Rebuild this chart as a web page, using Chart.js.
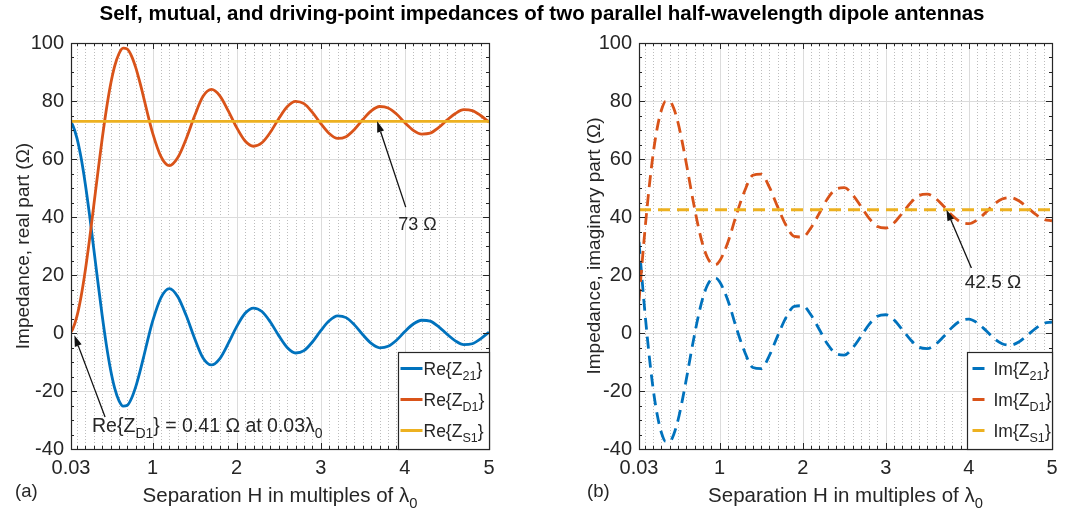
<!DOCTYPE html>
<html>
<head>
<meta charset="utf-8">
<script src="https://cdn.jsdelivr.net/npm/chart.js@4.4.1/dist/chart.umd.min.js"></script>
<style>
  html, body { margin: 0; padding: 0; background: #fff; }
  #wrap { position: relative; width: 1084px; height: 514px; overflow: hidden; }
  #title { position: absolute; left: 0; top: 1px; width: 1084px; text-align: center;
           font-family: "Liberation Sans", Arial, sans-serif; font-weight: bold; font-size: 20.5px; color: #000; }
  canvas { position: absolute; top: 0; }
  #chartRe { left: 0; }
  #chartIm { left: 545px; }
</style>
</head>
<body>
<div id="wrap">
  <canvas id="chartRe" width="545" height="514"></canvas>
  <canvas id="chartIm" width="539" height="514"></canvas>
  <div id="title">Self, mutual, and driving-point impedances of two parallel half-wavelength dipole antennas</div>
</div>
<script>
// separation H / lambda0
var separation = [0.03, 0.05, 0.1, 0.15, 0.2, 0.25, 0.3, 0.35, 0.4, 0.45, 0.5, 0.55, 0.6, 0.65, 0.7, 0.75, 0.8, 0.85, 0.9, 0.95, 1.0,
    1.1, 1.2, 1.3, 1.4, 1.5, 1.6, 1.7, 1.8, 1.9, 2.0, 2.1, 2.2, 2.3, 2.4, 2.5, 2.6, 2.7, 2.8, 2.9, 3.0,
    3.1, 3.2, 3.3, 3.4, 3.5, 3.6, 3.7, 3.8, 3.9, 4.0, 4.1, 4.2, 4.3, 4.4, 4.5, 4.6, 4.7, 4.8, 4.9, 5.0];

var reZ21 = [72.6, 71.7, 67.3, 60.4, 51.4, 40.8, 29.2, 17.5, 6.2, -4.0, -12.6, -19.1, -23.3, -25.2, -24.9, -22.5, -18.5, -13.3, -7.5, -1.5, 4.0,
    12.2, 15.3, 12.5, 6.0, -1.9, -8.6, -11.0, -8.8, -3.6, 2.2, 6.8, 8.6, 7.4, 3.8, -0.9, -5.0, -6.9, -6.1, -3.1, 0.8,
    4.2, 5.9, 5.3, 2.8, -0.6, -3.6, -5.1, -4.6, -2.5, 0.5, 3.1, 4.4, 4.1, 2.2, -0.4, -2.7, -4.0, -3.7, -2.0, 0.3];

var reZD1 = [0.41, 1.3, 5.7, 12.6, 21.6, 32.2, 43.8, 55.5, 66.8, 77.0, 85.6, 92.1, 96.3, 98.2, 97.9, 95.5, 91.5, 86.3, 80.5, 74.5, 69.0,
    60.8, 57.7, 60.5, 67.0, 74.9, 81.6, 84.0, 81.8, 76.6, 70.8, 66.2, 64.4, 65.6, 69.2, 73.9, 78.0, 79.9, 79.1, 76.1, 72.2,
    68.8, 67.1, 67.7, 70.2, 73.6, 76.6, 78.1, 77.6, 75.5, 72.5, 69.9, 68.6, 68.9, 70.8, 73.4, 75.7, 77.0, 76.7, 75.0, 72.7];

var imZ21 = [31.4, 24.3, 7.5, -7.1, -19.2, -28.3, -34.4, -37.4, -37.4, -34.8, -30.0, -23.4, -15.9, -7.9, -0.3, 6.6, 12.3, 16.3, 18.5, 19.0, 17.7,
    11.2, 1.9, -6.4, -11.9, -12.3, -7.7, -0.9, 5.4, 9.2, 9.4, 6.2, 1.2, -3.9, -7.1, -7.6, -5.2, -1.2, 3.0, 5.8, 6.3,
    4.5, 1.1, -2.4, -4.9, -5.4, -3.9, -1.1, 2.0, 4.2, 4.8, 3.5, 1.0, -1.8, -3.7, -4.2, -3.1, -0.9, 1.5, 3.3, 3.8];

var imZD1 = [11.1, 18.2, 35.0, 49.6, 61.7, 70.8, 76.9, 79.9, 79.9, 77.3, 72.5, 65.9, 58.4, 50.4, 42.8, 35.9, 30.2, 26.2, 24.0, 23.5, 24.8,
    31.3, 40.6, 48.9, 54.4, 54.8, 50.2, 43.4, 37.1, 33.3, 33.1, 36.3, 41.3, 46.4, 49.6, 50.1, 47.7, 43.7, 39.5, 36.7, 36.2,
    38.0, 41.4, 44.9, 47.4, 47.9, 46.4, 43.6, 40.5, 38.3, 37.7, 39.0, 41.5, 44.3, 46.2, 46.7, 45.6, 43.4, 41.0, 39.2, 38.7];

var selfSpan = [0.03, 5];
var reZS1 = [73, 73];
var imZS1 = [42.5, 42.5];

var xTickValues = [0.03, 1, 2, 3, 4, 5];
var xTickLabels = ['0.03', '1', '2', '3', '4', '5'];
var yTickValues = [-40, -20, 0, 20, 40, 60, 80, 100];

var FONT = '"Liberation Sans", Arial, Helvetica, sans-serif';
var INK = '#262626';
var BLUE = '#0072BD', ORANGE = '#D95319', YELLOW = '#EDB120';

function toPoints(xs, ys) {
    return xs.map(function(x, i) { return { x: x, y: ys[i] }; });
}

// parts: [[text, isSubscript], ...]; y is the baseline
function drawRich(ctx, parts, x, y, size, align) {
    var widths = [], total = 0;
    parts.forEach(function(p) {
        ctx.font = (p[1] ? size * 0.72 : size) + 'px ' + FONT;
        var w = ctx.measureText(p[0]).width;
        widths.push(w);
        total += w;
    });
    var cx = x;
    if (align === 'center') cx = x - total / 2;
    if (align === 'right') cx = x - total;
    ctx.textAlign = 'left';
    ctx.textBaseline = 'alphabetic';
    parts.forEach(function(p, i) {
        ctx.font = (p[1] ? size * 0.72 : size) + 'px ' + FONT;
        ctx.fillText(p[0], cx, p[1] ? y + size * 0.3 : y);
        cx += widths[i];
    });
}

function seg(ctx, x1, y1, x2, y2) {
    ctx.beginPath();
    ctx.moveTo(x1, y1);
    ctx.lineTo(x2, y2);
    ctx.stroke();
}

function arrow(ctx, x1, y1, x2, y2) {
    var ang = Math.atan2(y2 - y1, x2 - x1), len = 11, half = 3.6;
    var bx = x2 - len * Math.cos(ang), by = y2 - len * Math.sin(ang);
    ctx.strokeStyle = '#111';
    ctx.fillStyle = '#111';
    ctx.lineWidth = 1.3;
    seg(ctx, x1, y1, bx, by);
    ctx.beginPath();
    ctx.moveTo(x2, y2);
    ctx.lineTo(bx + half * Math.sin(ang), by - half * Math.cos(ang));
    ctx.lineTo(bx - half * Math.sin(ang), by + half * Math.cos(ang));
    ctx.closePath();
    ctx.fill();
}

var matlabAxes = {
    id: 'matlabAxes',
    beforeDatasetsDraw: function(chart) {
        var ctx = chart.ctx, a = chart.chartArea, xs = chart.scales.x, ys = chart.scales.y;
        ctx.save();
        ctx.lineWidth = 1;
        ctx.strokeStyle = '#bdbdbd';
        ctx.setLineDash([1, 2]);
        for (var i = 1; i < 50; i++) {
            if (i % 10 === 0) continue;
            var px = Math.round(xs.getPixelForValue(i / 10)) + 0.5;
            seg(ctx, px, a.top, px, a.bottom);
        }
        ctx.setLineDash([]);
        ctx.strokeStyle = '#dcdcdc';
        [1, 2, 3, 4].forEach(function(v) {
            var px = Math.round(xs.getPixelForValue(v)) + 0.5;
            seg(ctx, px, a.top, px, a.bottom);
        });
        yTickValues.forEach(function(v) {
            var py = Math.round(ys.getPixelForValue(v)) + 0.5;
            seg(ctx, a.left, py, a.right, py);
        });
        ctx.restore();
    },
    afterDatasetsDraw: function(chart) {
        var ctx = chart.ctx, a = chart.chartArea, xs = chart.scales.x, ys = chart.scales.y;
        var cfg = chart.options.plugins.matlabAxes;
        var i, v, px, py;
        ctx.save();

        // inward ticks on all four sides
        ctx.strokeStyle = INK;
        ctx.lineWidth = 1;
        for (i = 1; i < 50; i++) {
            px = Math.round(xs.getPixelForValue(i / 10)) + 0.5;
            var tl = i % 10 === 0 ? 6 : 3;
            seg(ctx, px, a.bottom, px, a.bottom - tl);
            seg(ctx, px, a.top, px, a.top + tl);
        }
        for (v = -35; v < 100; v += 5) {
            py = Math.round(ys.getPixelForValue(v)) + 0.5;
            var tly = v % 20 === 0 ? 6 : 3;
            seg(ctx, a.left, py, a.left + tly, py);
            seg(ctx, a.right, py, a.right - tly, py);
        }
        ctx.lineWidth = 1.2;
        ctx.strokeRect(Math.round(a.left) + 0.5, Math.round(a.top) + 0.5,
            Math.round(a.right - a.left), Math.round(a.bottom - a.top));

        // legend box in the lower right corner
        var lw = cfg.legendWidth, lh = 97;
        var lx = Math.round(a.right) - lw + 0.5, ly = Math.round(a.bottom) - lh + 0.5;
        ctx.fillStyle = '#fff';
        ctx.fillRect(lx, ly, lw, lh);
        ctx.strokeRect(lx, ly, lw, lh);
        chart.data.datasets.forEach(function(ds, k) {
            var rowY = ly + 16 + k * 31;
            ctx.strokeStyle = ds.borderColor;
            ctx.lineWidth = 3;
            if (ds.borderDash) {
                seg(ctx, lx + 5, rowY, lx + 17, rowY);
            } else {
                seg(ctx, lx + 2, rowY, lx + 24, rowY);
            }
            ctx.fillStyle = INK;
            drawRich(ctx, ds.legendParts, lx + cfg.legendTextX, rowY + 6, 17.5, 'left');
        });

        // annotations with arrows
        cfg.notes.forEach(function(n) {
            arrow(ctx, xs.getPixelForValue(n.from[0]), ys.getPixelForValue(n.from[1]),
                xs.getPixelForValue(n.to[0]), ys.getPixelForValue(n.to[1]));
            ctx.fillStyle = INK;
            drawRich(ctx, n.parts, xs.getPixelForValue(n.at[0]), ys.getPixelForValue(n.at[1]) + n.size * 0.36, n.size, 'left');
        });

        // axis titles and panel tag
        ctx.fillStyle = INK;
        drawRich(ctx, [['Separation H in multiples of \u03bb', false], ['0', true]], (a.left + a.right) / 2, 502, 20.5, 'center');
        ctx.save();
        ctx.translate(cfg.yTitleX, (a.top + a.bottom) / 2);
        ctx.rotate(-Math.PI / 2);
        drawRich(ctx, [[cfg.yTitle, false]], 0, 7, 19, 'center');
        ctx.restore();
        drawRich(ctx, [[cfg.tag, false]], cfg.tagX, 497, 18.5, 'left');
        ctx.restore();
    }
};

function ImpedancePanel(canvasId, settings) {
    this.canvas = document.getElementById(canvasId);
    this.settings = settings;
    this.chart = null;
}

ImpedancePanel.prototype.init = function() {
    var s = this.settings;
    var tickFont = { family: FONT, size: 20 };

    var datasets = s.series.map(function(ser, k) {
        return {
            label: ser.label,
            legendParts: ser.legendParts,
            data: toPoints(ser.x, ser.y),
            borderColor: ser.color,
            borderWidth: 2.8,
            borderDash: s.dashed ? [12, 7] : undefined,
            pointRadius: 0,
            fill: false,
            cubicInterpolationMode: 'monotone',
            order: 2 - k
        };
    });

    this.chart = new Chart(this.canvas, {
        type: 'line',
        data: { datasets: datasets },
        options: {
            responsive: false,
            animation: false,
            layout: { padding: { left: 0, right: s.padRight, top: 43, bottom: 0 } },
            plugins: {
                legend: { display: false },
                tooltip: { enabled: false },
                matlabAxes: {
                    legendWidth: s.legendWidth,
                    legendTextX: s.legendTextX,
                    notes: s.notes,
                    yTitle: s.yTitle,
                    yTitleX: s.yTitleX,
                    tag: s.tag,
                    tagX: s.tagX
                }
            },
            scales: {
                x: {
                    type: 'linear',
                    min: 0.03,
                    max: 5,
                    afterBuildTicks: function(scale) {
                        scale.ticks = xTickValues.map(function(v) { return { value: v }; });
                    },
                    afterFit: function(scale) { scale.height = 65; },
                    grid: { display: false, drawTicks: false },
                    border: { display: false },
                    ticks: {
                        autoSkip: false,
                        maxRotation: 0,
                        padding: 7,
                        color: INK,
                        font: tickFont,
                        callback: function(v) {
                            var i = xTickValues.indexOf(v);
                            return i >= 0 ? xTickLabels[i] : '';
                        }
                    }
                },
                y: {
                    type: 'linear',
                    min: -40,
                    max: 100,
                    afterBuildTicks: function(scale) {
                        scale.ticks = yTickValues.map(function(v) { return { value: v }; });
                    },
                    afterFit: function(scale) { scale.width = s.axisWidth; },
                    grid: { display: false, drawTicks: false },
                    border: { display: false },
                    ticks: { padding: 7, color: INK, font: tickFont }
                }
            }
        },
        plugins: [matlabAxes]
    });
};

var realPanel = new ImpedancePanel('chartRe', {
    dashed: false,
    axisWidth: 71,
    padRight: 56,
    legendWidth: 91,
    legendTextX: 25,
    yTitle: 'Impedance, real part (\u03a9)',
    yTitleX: 22,
    tag: '(a)',
    tagX: 15,
    series: [
        { label: 'Re{Z21}', legendParts: [['Re{Z', false], ['21', true], ['}', false]], x: separation, y: reZ21, color: BLUE },
        { label: 'Re{ZD1}', legendParts: [['Re{Z', false], ['D1', true], ['}', false]], x: separation, y: reZD1, color: ORANGE },
        { label: 'Re{ZS1}', legendParts: [['Re{Z', false], ['S1', true], ['}', false]], x: selfSpan, y: reZS1, color: YELLOW }
    ],
    notes: [
        { from: [4.01, 43.4], to: [3.67, 73], at: [3.92, 37.6], size: 18, parts: [['73 \u03a9', false]] },
        { from: [0.435, -29], to: [0.07, -0.8], at: [0.28, -31.7], size: 19.5,
          parts: [['Re{Z', false], ['D1', true], ['} = 0.41 \u03a9 at 0.03\u03bb', false], ['0', true]] }
    ]
});

var imagPanel = new ImpedancePanel('chartIm', {
    dashed: true,
    axisWidth: 94,
    padRight: 32,
    legendWidth: 85,
    legendTextX: 26,
    yTitle: 'Impedance, imaginary part (\u03a9)',
    yTitleX: 48,
    tag: '(b)',
    tagX: 42,
    series: [
        { label: 'Im{Z21}', legendParts: [['Im{Z', false], ['21', true], ['}', false]], x: separation, y: imZ21, color: BLUE },
        { label: 'Im{ZD1}', legendParts: [['Im{Z', false], ['D1', true], ['}', false]], x: separation, y: imZD1, color: ORANGE },
        { label: 'Im{ZS1}', legendParts: [['Im{Z', false], ['S1', true], ['}', false]], x: selfSpan, y: imZS1, color: YELLOW }
    ],
    notes: [
        { from: [4.03, 22.4], to: [3.73, 42.5], at: [3.95, 17.9], size: 19, parts: [['42.5 \u03a9', false]] }
    ]
});

realPanel.init();
imagPanel.init();
</script>
</body>
</html>
